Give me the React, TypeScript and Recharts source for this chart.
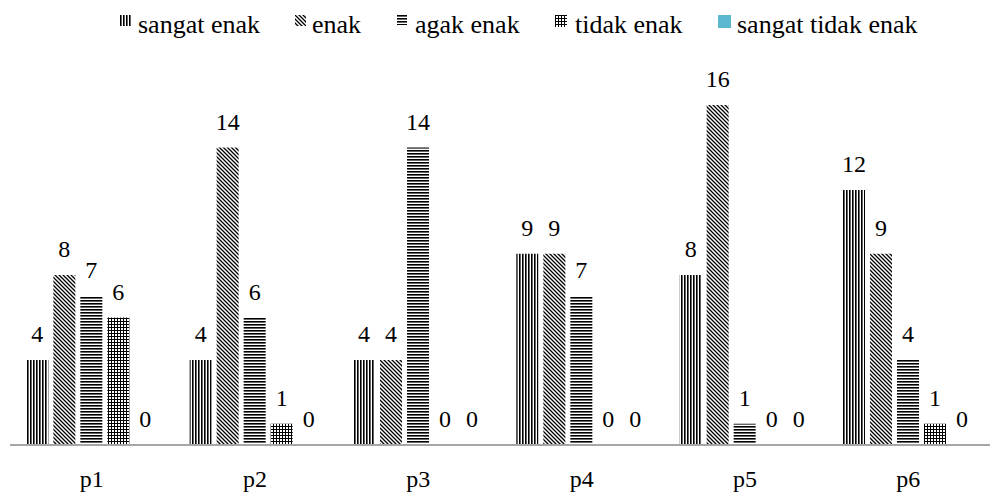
import { Bar, BarChart, LabelList, XAxis, YAxis } from "recharts";

const CATEGORIES = ["p1", "p2", "p3", "p4", "p5", "p6"];
const SANGAT_ENAK = [4, 4, 4, 9, 8, 12];
const ENAK = [8, 14, 4, 9, 16, 9];
const AGAK_ENAK = [7, 6, 14, 7, 1, 4];
const TIDAK_ENAK = [6, 1, 0, 0, 0, 1];
const SANGAT_TIDAK_ENAK = [0, 0, 0, 0, 0, 0];

// legend item placement (icon left, text left)
const SERIES = [
  { key: "sangatEnak", name: "sangat enak", fill: "url(#pat-vert)", icon: 11, iconX: 120, textX: 138 },
  { key: "enak", name: "enak", fill: "url(#pat-diag)", icon: 11, iconX: 295, textX: 312 },
  { key: "agakEnak", name: "agak enak", fill: "url(#pat-horiz)", icon: 10, iconX: 397, textX: 415 },
  { key: "tidakEnak", name: "tidak enak", fill: "url(#pat-grid)", icon: 12, iconX: 555, textX: 575 },
  { key: "sangatTidakEnak", name: "sangat tidak enak", fill: "#5bb8cf", icon: 13, iconX: 718, textX: 737 },
];

const data = CATEGORIES.map((c, i) => ({
  name: c,
  sangatEnak: SANGAT_ENAK[i],
  enak: ENAK[i],
  agakEnak: AGAK_ENAK[i],
  tidakEnak: TIDAK_ENAK[i],
  sangatTidakEnak: SANGAT_TIDAK_ENAK[i],
}));

const FONT = "Liberation Serif";
const LABEL_STYLE = { fontFamily: FONT, fontSize: 24, fill: "#000" };

function Patterns() {
  return (
    <defs>
      <pattern id="pat-vert" width="3" height="3" patternUnits="userSpaceOnUse">
        <rect width="3" height="3" fill="#fff" />
        <rect width="1.6" height="3" fill="#000" />
      </pattern>
      <pattern id="pat-diag" width="4" height="4" patternUnits="userSpaceOnUse">
        <rect width="4" height="4" fill="#fff" />
        <path d="M-1,-1 L5,5 M-1,3 L1,5 M3,-1 L5,1" stroke="#000" strokeWidth="1.3" />
      </pattern>
      <pattern id="pat-horiz" width="3" height="3" patternUnits="userSpaceOnUse">
        <rect width="3" height="3" fill="#fff" />
        <rect width="3" height="1.6" fill="#000" />
      </pattern>
      <pattern id="pat-grid" width="3" height="3" patternUnits="userSpaceOnUse">
        <rect width="3" height="3" fill="#fff" />
        <rect width="1" height="3" fill="#000" />
        <rect width="3" height="1" fill="#000" />
      </pattern>
    </defs>
  );
}

function LegendRow() {
  return (
    <div style={{ position: "absolute", top: 0, left: 0, width: 990, height: 50, fontFamily: FONT, fontSize: 26, color: "#000" }}>
      {SERIES.map((s) => (
        <div key={s.key}>
          <svg
            width={s.icon}
            height={s.icon}
            style={{ position: "absolute", left: s.iconX, top: 15 }}
          >
            <Patterns />
            <rect width={s.icon} height={s.icon} fill={s.fill} />
          </svg>
          <span style={{ position: "absolute", left: s.textX, top: 10, lineHeight: "30px", whiteSpace: "nowrap" }}>
            {s.name}
          </span>
        </div>
      ))}
    </div>
  );
}

export default function App() {
  return (
    <div style={{ position: "absolute", left: 0, top: 0, width: 990, height: 494, background: "#fff" }}>
      <LegendRow />
      <BarChart
        width={990}
        height={494}
        data={data}
        margin={{ top: 105, right: 0, bottom: 0, left: 10 }}
        barCategoryGap="10%"
        barGap={5}
      >
        <Patterns />
        <XAxis
          dataKey="name"
          height={49}
          tickLine={false}
          tickMargin={19}
          axisLine={{ stroke: "#a6a6a6", strokeWidth: 2 }}
          tick={{ fontFamily: FONT, fontSize: 24, fill: "#000" }}
        />
        <YAxis hide domain={[0, 16]} />
        {SERIES.map((s) => (
          <Bar key={s.key} dataKey={s.key} name={s.name} fill={s.fill} minPointSize={0.1} isAnimationActive={false}>
            <LabelList dataKey={s.key} position="top" offset={18} style={LABEL_STYLE} />
          </Bar>
        ))}
      </BarChart>
    </div>
  );
}
